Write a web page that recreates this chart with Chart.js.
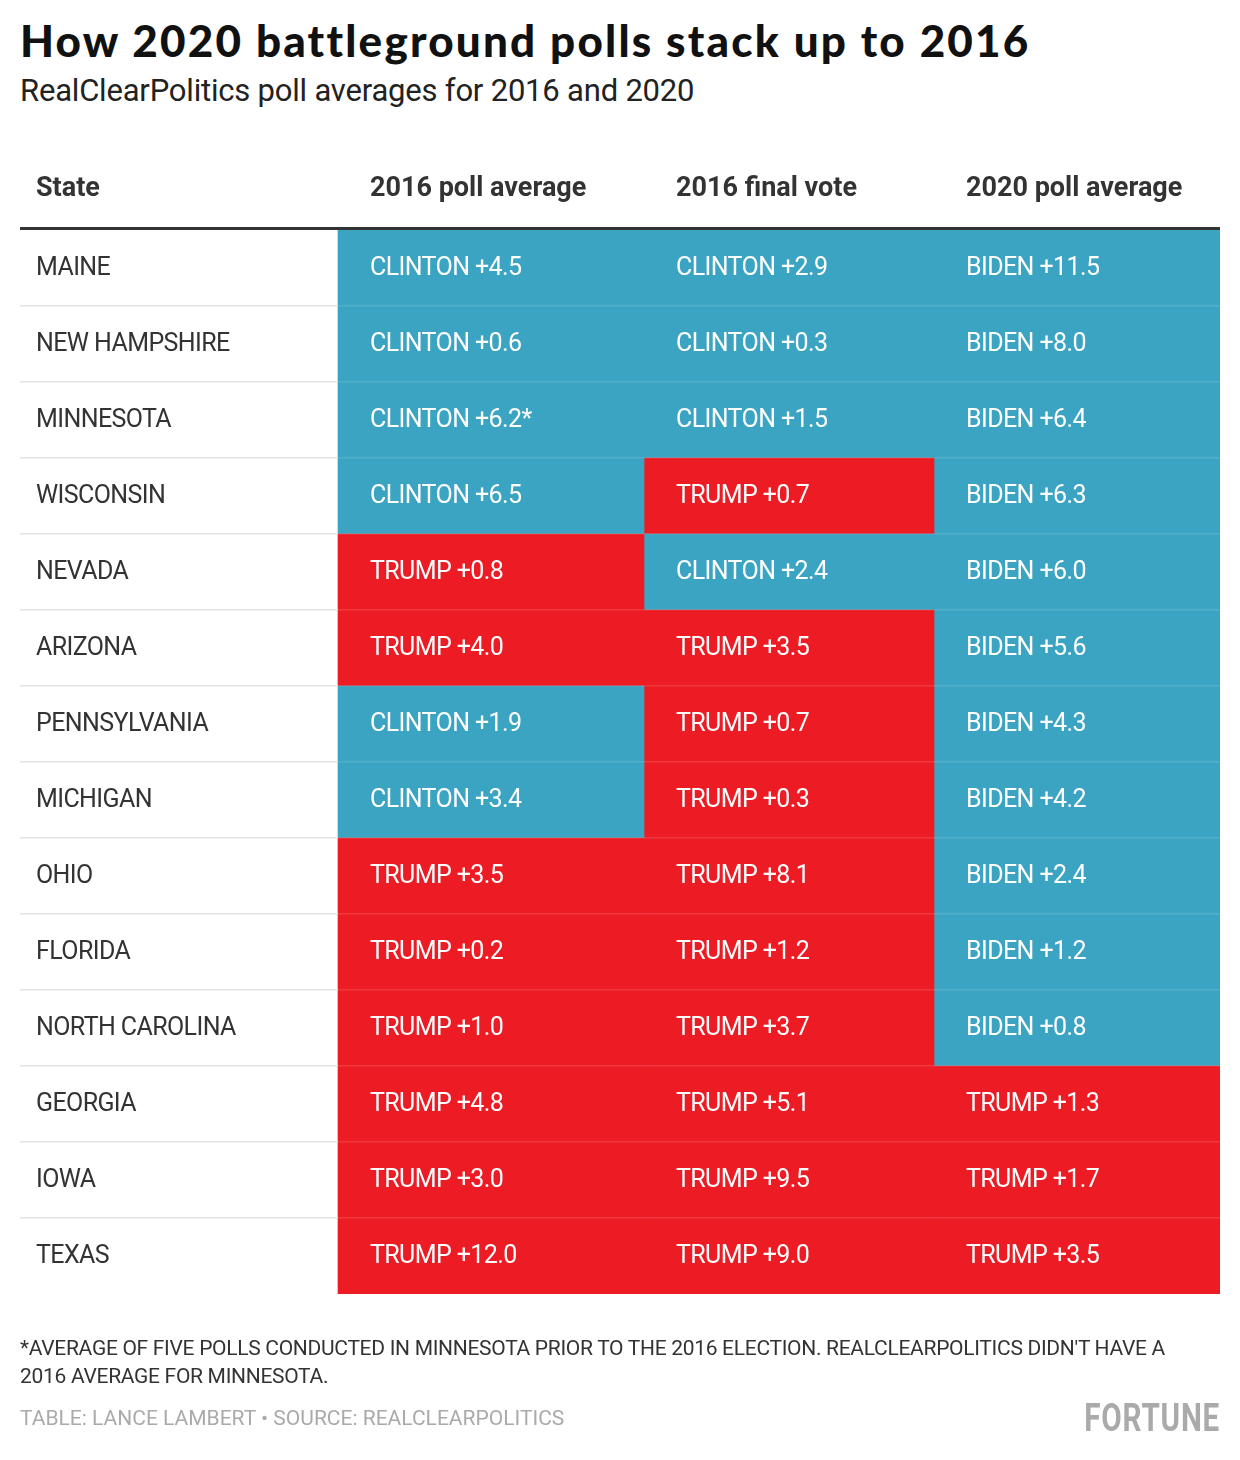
<!DOCTYPE html>
<html><head><meta charset="utf-8">
<script src="https://cdn.jsdelivr.net/npm/chart.js@4"></script>
<style>
body{margin:0;background:#fff;width:1240px;height:1460px;position:relative;font-family:Roboto,sans-serif;overflow:hidden}
#t{position:absolute;left:20px;top:14px;font:900 44px Lato,sans-serif;color:#111;letter-spacing:2.2px}
#s{position:absolute;left:20px;top:72px;font:400 31px Roboto,sans-serif;color:#222;letter-spacing:-0.2px}
#n{position:absolute;left:20px;top:1334px;width:1180px;font:400 21px Roboto,sans-serif;color:#333;line-height:28px;letter-spacing:-0.3px}
#src{position:absolute;left:20px;top:1406px;font:400 21px Roboto,sans-serif;color:#aaa;letter-spacing:0px}
#f{position:absolute;right:20px;top:1396px;font:700 38px "Roboto",sans-serif;color:#aaa;letter-spacing:1px;transform:scaleX(0.78);transform-origin:right}
canvas{position:absolute;left:0;top:0}
</style></head><body>
<div id="t">How 2020 battleground polls stack up to 2016</div>
<div id="s">RealClearPolitics poll averages for 2016 and 2020</div>
<canvas id="c" width="1240" height="1460"></canvas>
<div id="n">*AVERAGE OF FIVE POLLS CONDUCTED IN MINNESOTA PRIOR TO THE 2016 ELECTION. REALCLEARPOLITICS DIDN'T HAVE A 2016 AVERAGE FOR MINNESOTA.</div>
<div id="src">TABLE: LANCE LAMBERT • SOURCE: REALCLEARPOLITICS</div>
<div id="f">FORTUNE</div>
<script>
const headers=["State","2016 poll average","2016 final vote","2020 poll average"];
const states=["MAINE","NEW HAMPSHIRE","MINNESOTA","WISCONSIN","NEVADA","ARIZONA","PENNSYLVANIA","MICHIGAN","OHIO","FLORIDA","NORTH CAROLINA","GEORGIA","IOWA","TEXAS"];
const poll2016=["CLINTON +4.5","CLINTON +0.6","CLINTON +6.2*","CLINTON +6.5","TRUMP +0.8","TRUMP +4.0","CLINTON +1.9","CLINTON +3.4","TRUMP +3.5","TRUMP +0.2","TRUMP +1.0","TRUMP +4.8","TRUMP +3.0","TRUMP +12.0"];
const vote2016=["CLINTON +2.9","CLINTON +0.3","CLINTON +1.5","TRUMP +0.7","CLINTON +2.4","TRUMP +3.5","TRUMP +0.7","TRUMP +0.3","TRUMP +8.1","TRUMP +1.2","TRUMP +3.7","TRUMP +5.1","TRUMP +9.5","TRUMP +9.0"];
const poll2020=["BIDEN +11.5","BIDEN +8.0","BIDEN +6.4","BIDEN +6.3","BIDEN +6.0","BIDEN +5.6","BIDEN +4.3","BIDEN +4.2","BIDEN +2.4","BIDEN +1.2","BIDEN +0.8","TRUMP +1.3","TRUMP +1.7","TRUMP +3.5"];
const colEdges=[0,318,624,914,1200];
const cols=[states,poll2016,vote2016,poll2020];
const BLUE="#3ba4c2",RED="#ed1c24";
const color=v=>v.startsWith("TRUMP")?RED:BLUE;
const datasets=[1,2,3].map(c=>({data:states.map(()=>[colEdges[c],colEdges[c+1]]),backgroundColor:cols[c].map(color),borderWidth:0,barPercentage:1,categoryPercentage:1,grouped:false}));
const textPlugin={id:'txt',afterDatasetsDraw(ch){
 const {ctx,scales:{x,y},chartArea:a}=ch;ctx.save();
 const h=y.getPixelForValue(1)-y.getPixelForValue(0);
 ctx.letterSpacing="-0.6px";
 for(let i=0;i<states.length;i++){
  const yc=y.getPixelForValue(i),yb=yc+h/2;
  if(i<states.length-1){
   ctx.fillStyle="#e4e4e4";ctx.fillRect(a.left,yb-1,x.getPixelForValue(colEdges[1])-a.left,1.5);
   ctx.fillStyle="rgba(255,255,255,0.12)";ctx.fillRect(x.getPixelForValue(colEdges[1]),yb-1,a.right-x.getPixelForValue(colEdges[1]),1.5);
  }
  ctx.font="400 25px Roboto";ctx.textBaseline="middle";
  cols.forEach((col,c)=>{ctx.fillStyle=c?"#fff":"#333";
   ctx.fillText(col[i],x.getPixelForValue(colEdges[c])+(c?32:16),yc+1);});
 }
 ctx.letterSpacing="0px";
 ctx.font="700 27px Roboto";ctx.fillStyle="#333";
 headers.forEach((t,c)=>ctx.fillText(t,x.getPixelForValue(colEdges[c])+(c?32:16),a.top-41));
 ctx.fillStyle="#333";ctx.fillRect(a.left,a.top-3,a.right-a.left,3);
 ctx.restore();}};
new Chart(document.getElementById('c'),{type:'bar',data:{labels:states,datasets},
 options:{indexAxis:'y',responsive:false,animation:false,devicePixelRatio:1,
  layout:{padding:{left:20,right:20,top:230,bottom:166}},
  plugins:{legend:{display:false},tooltip:{enabled:false}},
  scales:{x:{type:'linear',min:0,max:1200,display:false},y:{display:false,grid:{display:false}}}},
 plugins:[textPlugin]});
</script></body></html>
